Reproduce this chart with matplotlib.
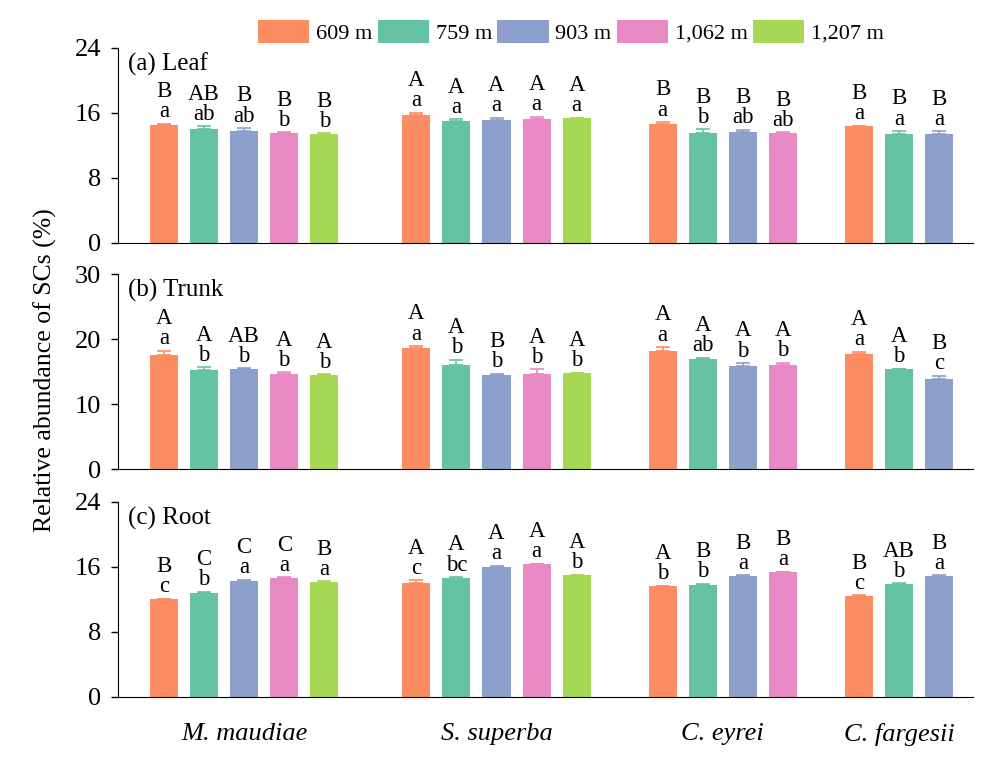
import matplotlib
matplotlib.use('Agg')
import matplotlib.pyplot as plt
from matplotlib.patches import Patch

plt.rcParams['font.family'] = ['Liberation Serif', 'DejaVu Serif']

species = ['M. maudiae', 'S. superba', 'C. eyrei', 'C. fargesii']
elevations = ['609 m', '759 m', '903 m', '1,062 m', '1,207 m']
colors = ['#FC8D62', '#66C2A5', '#8DA0CB', '#E78AC3', '#A6D854']

# (a) Leaf
leaf_mean = [[14.5, 13.95, 13.75, 13.45, 13.4],
             [15.7, 15.0, 15.1, 15.25, 15.35],
             [14.65, 13.5, 13.65, 13.55],
             [14.3, 13.4, 13.4]]
leaf_err = [[0.15, 0.35, 0.35, 0.12, 0.05],
            [0.3, 0.2, 0.3, 0.25, 0.05],
            [0.2, 0.45, 0.25, 0.05],
            [0.1, 0.35, 0.3]]
leaf_upper = [['B', 'AB', 'B', 'B', 'B'], ['A', 'A', 'A', 'A', 'A'],
              ['B', 'B', 'B', 'B'], ['B', 'B', 'B']]
leaf_lower = [['a', 'ab', 'ab', 'b', 'b'], ['a', 'a', 'a', 'a', 'a'],
              ['a', 'b', 'ab', 'ab'], ['a', 'a', 'a']]

# (b) Trunk
trunk_mean = [[17.6, 15.2, 15.4, 14.6, 14.55],
              [18.7, 16.0, 14.55, 14.7, 14.8],
              [18.2, 16.9, 15.9, 16.1],
              [17.8, 15.4, 13.95]]
trunk_err = [[0.65, 0.45, 0.15, 0.3, 0.05],
             [0.25, 0.85, 0.15, 0.7, 0.05],
             [0.6, 0.25, 0.45, 0.3],
             [0.3, 0.05, 0.45]]
trunk_upper = [['A', 'A', 'AB', 'A', 'A'], ['A', 'A', 'B', 'A', 'A'],
               ['A', 'A', 'A', 'A'], ['A', 'A', 'B']]
trunk_lower = [['a', 'b', 'b', 'b', 'b'], ['a', 'b', 'b', 'b', 'b'],
               ['a', 'ab', 'b', 'b'], ['a', 'b', 'c']]

# (c) Root
root_mean = [[12.05, 12.75, 14.3, 14.6, 14.2],
             [14.0, 14.6, 16.0, 16.3, 15.0],
             [13.65, 13.75, 14.9, 15.35],
             [12.45, 13.95, 14.9]]
root_err = [[0.05, 0.2, 0.12, 0.12, 0.05],
            [0.33, 0.15, 0.15, 0.08, 0.05],
            [0.05, 0.2, 0.05, 0.08],
            [0.05, 0.05, 0.05]]
root_upper = [['B', 'C', 'C', 'C', 'B'], ['A', 'A', 'A', 'A', 'A'],
              ['A', 'B', 'B', 'B'], ['B', 'AB', 'B']]
root_lower = [['c', 'b', 'a', 'a', 'a'], ['c', 'bc', 'a', 'a', 'b'],
              ['b', 'b', 'a', 'a'], ['c', 'b', 'a']]

panels = [
    ('(a) Leaf', leaf_mean, leaf_err, leaf_upper, leaf_lower, 24, [0, 8, 16, 24]),
    ('(b) Trunk', trunk_mean, trunk_err, trunk_upper, trunk_lower, 30, [0, 10, 20, 30]),
    ('(c) Root', root_mean, root_err, root_upper, root_lower, 24, [0, 8, 16, 24]),
]

# layout: slot positions of bars, gaps between species groups
group_gap = [2.3, 2.15, 1.9]
bar_w = 0.7
positions = []
start = 0.0
for g, vals in enumerate(leaf_mean):
    positions.append([start + i for i in range(len(vals))])
    if g < len(group_gap):
        start = start + len(vals) - 1 + group_gap[g]
centers = [(p[0] + p[-1]) / 2 for p in positions]

fig = plt.figure(figsize=(9.88, 7.68), dpi=100)
rects = [(0.1194, 0.684, 0.8656, 0.254),
         (0.1194, 0.389, 0.8656, 0.254),
         (0.1194, 0.0925, 0.8656, 0.254)]

for k, (title, means, errs, upper, lower, ymax, yticks) in enumerate(panels):
    ax = fig.add_axes(rects[k])
    for g in range(len(species)):
        for i, m in enumerate(means[g]):
            x = positions[g][i]
            ax.bar(x, m, width=bar_w, color=colors[i], zorder=2)
            ax.errorbar(x, m, yerr=[[0], [errs[g][i]]], fmt='none', ecolor=colors[i],
                        elinewidth=1.2, capsize=4.7, capthick=1.2, zorder=3)
            ax.annotate(f'{upper[g][i]}\n{lower[g][i]}', (x, m + errs[g][i]),
                        xytext=(0, 1), textcoords='offset points', ha='center', va='bottom',
                        fontsize=16.5, linespacing=0.95)
    ax.set_ylim(0, ymax)
    ax.set_yticks(yticks)
    ax.set_xlim(-1.15, 20.2)
    ax.spines['top'].set_visible(False)
    ax.spines['right'].set_visible(False)
    ax.tick_params(axis='y', labelsize=19, direction='out', length=5, width=1, pad=7)
    ax.text(0.012, 0.975, title, transform=ax.transAxes, fontsize=18, va='top', ha='left')
    if k < 2:
        ax.set_xticks([])
    else:
        ax.set_xticks(centers)
        ax.set_xticklabels(species, fontsize=19, style='italic')
        ax.tick_params(axis='x', length=0, pad=19)

fig.text(0.046, 0.518, 'Relative abundance of SCs (%)', rotation=90, fontsize=18.5,
         ha='center', va='center')

handles = [Patch(facecolor=c, edgecolor='none') for c in colors]
fig.legend(handles, elevations, loc='center', bbox_to_anchor=(0.578, 0.958), ncol=5,
           frameon=False, fontsize=16, handlelength=2.3, handleheight=1.15,
           handletextpad=0.3, columnspacing=0.25)

fig.savefig('out.png', dpi=100)
